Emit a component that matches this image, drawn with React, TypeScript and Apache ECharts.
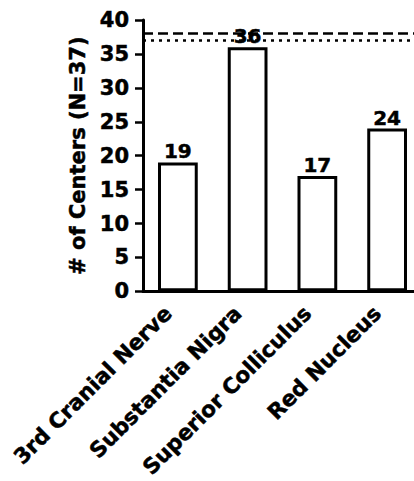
import React, { useEffect, useRef } from "react";
import * as echarts from "echarts";

const categories = ["3rd Cranial Nerve", "Substantia Nigra", "Superior Colliculus", "Red Nucleus"];
const centerCounts = [19, 36, 17, 24];
const dashedRef = [38];
const dottedRef = [37];
const yTicks = { min: 0, max: 40, interval: 5 };
const yAxisTitle = "# of Centers (N=37)";

const FONT = "DejaVu Sans";
const heavy = { textBorderColor: "#000", textBorderWidth: 0.5 };

export default function App() {
  const ref = useRef<HTMLDivElement>(null);
  useEffect(() => {
    if (!ref.current) return;
    const chart = echarts.init(ref.current, undefined, { renderer: "svg" });
    chart.setOption({
      animation: false,
      backgroundColor: "#ffffff",
      grid: { left: 143, top: 20, bottom: 188, right: 18, containLabel: false },
      xAxis: {
        type: "category",
        data: categories,
        axisLine: { lineStyle: { color: "#000", width: 3 } },
        axisTick: { alignWithLabel: true, length: 9, lineStyle: { color: "#000", width: 2.5 } },
        axisLabel: {
          rotate: 45,
          interval: 0,
          margin: 24,
          align: "right",
          verticalAlign: "bottom",
          padding: [0, 3, 0, 0],
          color: "#000",
          fontFamily: FONT,
          fontWeight: "bold",
          fontSize: 21.5,
          ...heavy,
        },
      },
      yAxis: {
        type: "value",
        min: yTicks.min,
        max: yTicks.max,
        interval: yTicks.interval,
        name: yAxisTitle,
        nameLocation: "middle",
        nameGap: 42,
        nameTextStyle: { color: "#000", fontFamily: FONT, fontWeight: "bold", fontSize: 21, ...heavy },
        axisLine: { show: true, lineStyle: { color: "#000", width: 3 } },
        axisTick: { show: true, length: 8, lineStyle: { color: "#000", width: 2.5 } },
        axisLabel: { color: "#000", fontFamily: FONT, fontWeight: "bold", fontSize: 21, margin: 14, ...heavy },
        splitLine: { show: false },
      },
      series: [
        {
          type: "bar",
          data: centerCounts,
          barWidth: "57%",
          itemStyle: { color: "#ffffff", borderColor: "#000", borderWidth: 3 },
          label: {
            show: true,
            position: "top",
            distance: 1,
            color: "#000",
            fontFamily: FONT,
            fontWeight: "bold",
            fontSize: 20,
            ...heavy,
          },
          markLine: {
            silent: true,
            symbol: "none",
            label: { show: false },
            data: [
              ...dashedRef.map((v) => ({
                yAxis: v,
                lineStyle: { type: [10, 5], color: "#000", width: 2.5 },
              })),
              ...dottedRef.map((v) => ({
                yAxis: v,
                lineStyle: { type: [3, 5], color: "#000", width: 2.5 },
              })),
            ],
          },
        },
      ],
    });
    return () => chart.dispose();
  }, []);
  return (
    <div style={{ position: "absolute", left: 0, top: 0, width: 414, height: 481, overflow: "hidden", background: "#fff" }}>
      <div ref={ref} style={{ width: 440, height: 481 }} />
    </div>
  );
}
